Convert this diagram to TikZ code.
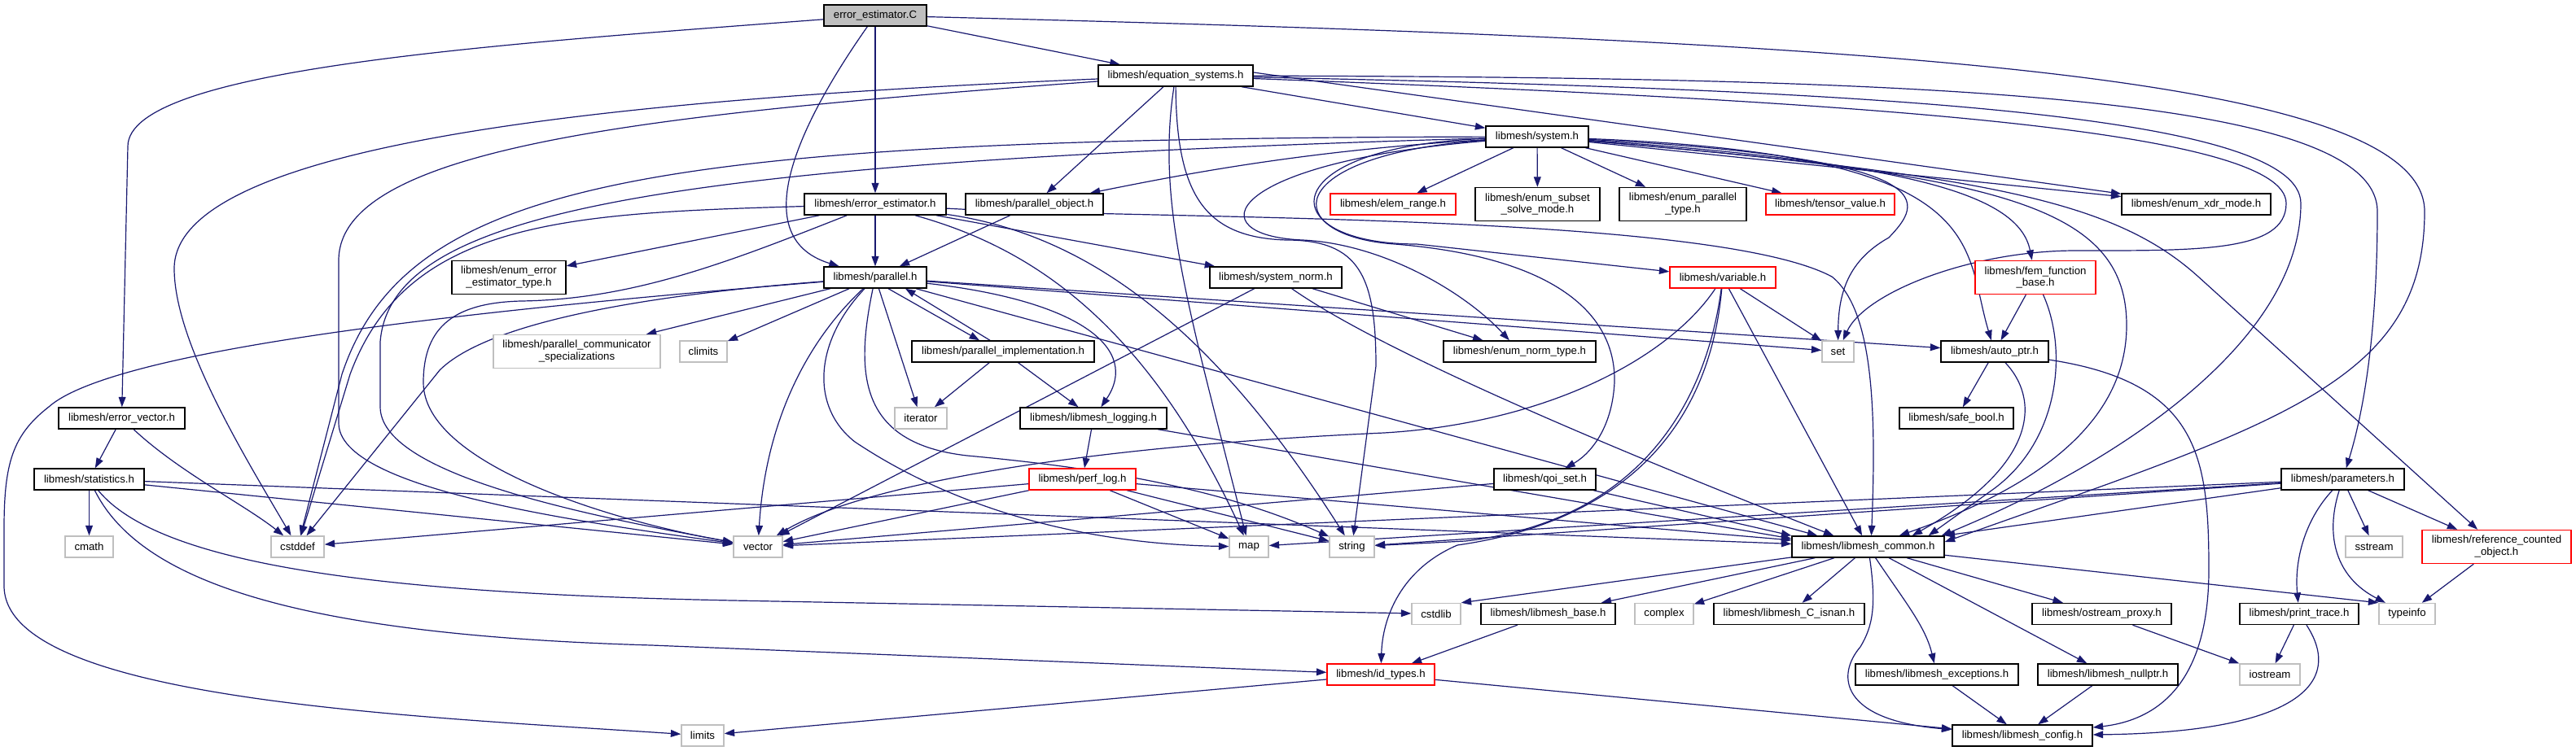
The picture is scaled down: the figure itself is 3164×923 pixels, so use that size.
\documentclass[tikz,border=0pt]{standalone}
\usepackage{fontspec}
\setmainfont{Liberation Sans}
\usepackage{tikz}
\usetikzlibrary{arrows.meta,backgrounds}
\definecolor{EdgeNavy}{HTML}{191970}
\definecolor{RootFill}{HTML}{BFBFBF}
\definecolor{SysBorder}{HTML}{BFBFBF}
\definecolor{TruncRed}{HTML}{FF0000}
\newcommand{\hdrfont}{\fontsize{9.4}{10.6}\selectfont}

\tikzset{
  hdr/.style={draw=black, fill=white, line width=0.35mm, inner sep=0pt, minimum height=6.5mm, align=center, font=\hdrfont},
  twoline/.style={minimum height=10.25mm},
  sysinc/.style={hdr, draw=SysBorder},
  trunc/.style={hdr, draw=TruncRed},
  rootfile/.style={hdr, fill=RootFill},
  wd/.style={minimum width=#1*0.25mm},
  dep/.style={draw=EdgeNavy, line width=0.3mm, -{Triangle[length=3.1mm, width=2.2mm]}}
}

\begin{document}
\begin{tikzpicture}[x=0.25mm, y=-0.25mm]
  \useasboundingbox (0,0) rectangle (3164,923);

  % Row 0 and 1
  \node[rootfile, wd=126] (nC) at (1075,19) {error\_estimator.C};
  \node[hdr, wd=190] (nEqSys) at (1444,93) {libmesh/equation\_systems.h};

  % Row 2
  \node[hdr, wd=126] (nSystem) at (1888,168) {libmesh/system.h};

  % Row 3
  \node[hdr, wd=174] (nErrEstH) at (1075,251) {libmesh/error\_estimator.h};
  \node[hdr, wd=169] (nParObj) at (1270.5,251) {libmesh/parallel\_object.h};
  \node[trunc, wd=154] (nElemRange) at (1711,251) {libmesh/elem\_range.h};
  \node[hdr, twoline, wd=153] (nSubset) at (1888.5,251) {libmesh/enum\_subset\\\_solve\_mode.h};
  \node[hdr, twoline, wd=156] (nParType) at (2067,251) {libmesh/enum\_parallel\\\_type.h};
  \node[trunc, wd=158] (nTensor) at (2248,251) {libmesh/tensor\_value.h};
  \node[hdr, wd=183] (nXdr) at (2697.5,251) {libmesh/enum\_xdr\_mode.h};

  % Row 4
  \node[hdr, twoline, wd=140] (nEnumErrType) at (625,341) {libmesh/enum\_error\\\_estimator\_type.h};
  \node[hdr, wd=126] (nParallel) at (1075,341) {libmesh/parallel.h};
  \node[hdr, wd=162] (nSysNorm) at (1567,341) {libmesh/system\_norm.h};
  \node[trunc, wd=130] (nVariable) at (2116,341) {libmesh/variable.h};
  \node[trunc, twoline, wd=148] (nFem) at (2500,341) {libmesh/fem\_function\\\_base.h};

  % Row 5
  \node[sysinc, twoline, wd=205] (nCommSpec) at (708.5,432) {libmesh/parallel\_communicator\\\_specializations};
  \node[sysinc, wd=58] (nClimits) at (864,432) {climits};
  \node[hdr, wd=224] (nParImpl) at (1232,432) {libmesh/parallel\_implementation.h};
  \node[hdr, wd=187] (nNormType) at (1866.5,432) {libmesh/enum\_norm\_type.h};
  \node[sysinc, wd=39] (nSet) at (2257.5,432) {set};
  \node[hdr, wd=132] (nAutoPtr) at (2450,432) {libmesh/auto\_ptr.h};

  % Row 6
  \node[hdr, wd=155] (nErrVec) at (149.5,514) {libmesh/error\_vector.h};
  \node[sysinc, wd=64] (nIterator) at (1131,514) {iterator};
  \node[hdr, wd=180] (nLogging) at (1343,514) {libmesh/libmesh\_logging.h};
  \node[hdr, wd=140] (nSafeBool) at (2403,514) {libmesh/safe\_bool.h};

  % Row 7
  \node[hdr, wd=135] (nStats) at (109.5,589) {libmesh/statistics.h};
  \node[trunc, wd=131] (nPerfLog) at (1329.5,589) {libmesh/perf\_log.h};
  \node[hdr, wd=125] (nQoi) at (1897.5,589) {libmesh/qoi\_set.h};
  \node[hdr, wd=151] (nParams) at (2877.5,589) {libmesh/parameters.h};

  % Row 8
  \node[sysinc, wd=59] (nCmath) at (109.5,672) {cmath};
  \node[sysinc, wd=65] (nCstddef) at (365.5,672) {cstddef};
  \node[sysinc, wd=60] (nVector) at (931,672) {vector};
  \node[sysinc, wd=48] (nMap) at (1534,672) {map};
  \node[sysinc, wd=55] (nString) at (1660.5,672) {string};
  \node[hdr, wd=187] (nCommon) at (2294.5,672) {libmesh/libmesh\_common.h};
  \node[sysinc, wd=70] (nSstream) at (2916,672) {sstream};
  \node[trunc, twoline, wd=183] (nRefCount) at (3066.5,672) {libmesh/reference\_counted\\\_object.h};

  % Row 9
  \node[sysinc, wd=60] (nCstdlib) at (1764,754.5) {cstdlib};
  \node[hdr, wd=165] (nLibBase) at (1901.5,754.5) {libmesh/libmesh\_base.h};
  \node[sysinc, wd=72] (nComplex) at (2044,754.5) {complex};
  \node[hdr, wd=185] (nIsnan) at (2197.5,754.5) {libmesh/libmesh\_C\_isnan.h};
  \node[hdr, wd=171] (nOstream) at (2581.5,754.5) {libmesh/ostream\_proxy.h};
  \node[hdr, wd=146] (nPrintTrace) at (2824,754.5) {libmesh/print\_trace.h};
  \node[sysinc, wd=69] (nTypeinfo) at (2956.5,754.5) {typeinfo};

  % Row 10 and 11
  \node[trunc, wd=132] (nIdTypes) at (1696,829) {libmesh/id\_types.h};
  \node[hdr, wd=200] (nExceptions) at (2379,829) {libmesh/libmesh\_exceptions.h};
  \node[hdr, wd=172] (nNullptr) at (2589,829) {libmesh/libmesh\_nullptr.h};
  \node[sysinc, wd=74] (nIostream) at (2788,829) {iostream};
  \node[sysinc, wd=52] (nLimits) at (863,904) {limits};
  \node[hdr, wd=172] (nConfig) at (2484,904) {libmesh/libmesh\_config.h};

  \begin{pgfonlayer}{background}
  \fill[white] (0,0) rectangle (3164,923);

  % error_estimator.C
  \draw[dep] (nC) -- (nEqSys);
  \draw[dep] (nC) -- (nErrEstH);
  \draw[dep] (nC) .. controls (990,140) and (910,290) .. (nParallel);
  \draw[dep] (nC) .. controls (600,55) and (157,85) .. (157,180) -- (nErrVec);
  \draw[dep] (nC) .. controls (2300,50) and (2978,90) .. (2978,260) .. controls (2978,470) and (2800,520) .. ([yshift=1.5mm]nCommon.east);

  % equation_systems.h
  \draw[dep] (nEqSys) -- (nSystem);
  \draw[dep] (nEqSys) -- (nParObj);
  \draw[dep] ([yshift=1mm]nEqSys.east) -- (nXdr);
  \draw[dep] (nEqSys) .. controls (2400,95) and (2920,120) .. (2920,260) .. controls (2920,400) and (2905,500) .. (nParams);
  \draw[dep] (nEqSys) .. controls (2300,110) and (2826,140) .. (2826,250) .. controls (2826,420) and (2600,570) .. ([xshift=-1mm]nCommon.north east);
  \draw[dep] (nEqSys) .. controls (2300,125) and (2808,160) .. (2808,250) .. controls (2808,310) and (2700,308) .. (2550,308) .. controls (2420,308) and (2290,360) .. (nSet);
  \draw[dep] (nEqSys) .. controls (1420,250) and (1460,380) .. (nMap);
  \draw[dep] (nEqSys) .. controls (1445,240) and (1480,292) .. (1580,295) .. controls (1670,295) and (1690,340) .. (1690,450) -- (nString);
  \draw[dep] (nEqSys) .. controls (800,120) and (214,170) .. (214,330) .. controls (214,420) and (300,560) .. (nCstddef);
  \draw[dep] (nEqSys) .. controls (800,140) and (416,180) .. (416,320) -- (416,520) .. controls (416,600) and (700,640) .. (nVector);

  % system.h
  \draw[dep] (nSystem) -- (nElemRange);
  \draw[dep] (nSystem) -- (nSubset);
  \draw[dep] (nSystem) -- (nParType);
  \draw[dep] (nSystem) -- (nTensor);
  \draw[dep] (nSystem) -- (nXdr);
  \draw[dep] (nSystem) .. controls (2350,200) and (2480,240) .. (nFem);
  \draw[dep] (nSystem) .. controls (2450,190) and (2410,300) .. (nAutoPtr);
  \draw[dep] (nSystem) .. controls (2450,215) and (2612,250) .. (2612,400) .. controls (2612,520) and (2500,600) .. ([xshift=-14mm]nCommon.north east);
  \draw[dep] (nSystem) .. controls (2450,215) and (2600,250) .. (2700,340) -- (nRefCount);
  \draw[dep] (nSystem) .. controls (2400,195) and (2360,250) .. (2320,292) .. controls (2270,320) and (2258,360) .. (nSet);
  \draw[dep] (nSystem) .. controls (1560,180) and (1560,300) .. (1740,300) -- (nVariable);
  \draw[dep] (nSystem) .. controls (1500,200) and (1470,290) .. (1600,295) .. controls (1700,300) and (1800,360) .. (nNormType);
  \draw[dep] (nSystem) .. controls (1570,190) and (1570,290) .. (1713,300) .. controls (1900,315) and (1985,380) .. (1983,470) .. controls (1980,530) and (1950,560) .. (nQoi);
  \draw[dep] (nSystem) .. controls (1600,185) and (1450,215) .. (nParObj);
  \draw[dep] (nSystem) .. controls (800,170) and (500,220) .. (420,460) -- (nCstddef);
  \draw[dep] (nSystem) .. controls (800,200) and (480,260) .. (467,420) -- (467,500) .. controls (467,580) and (700,630) .. (nVector);

  % error_estimator.h
  \draw[dep] (nErrEstH) -- (nParallel);
  \draw[dep] (nErrEstH) -- (nEnumErrType);
  \draw[dep] (nErrEstH) -- (nSysNorm);
  \draw[dep] (nErrEstH) .. controls (700,262) and (500,270) .. (430,460) -- (nCstddef);
  \draw[dep] (nErrEstH) .. controls (900,320) and (780,368) .. (640,370) .. controls (560,372) and (520,400) .. (520,470) .. controls (520,570) and (750,640) .. (nVector);
  \draw[dep] (nErrEstH) .. controls (1250,300) and (1400,380) .. (nMap);
  \draw[dep] (nErrEstH) .. controls (1350,290) and (1500,420) .. (nString);
  \draw[dep] (nErrEstH) .. controls (1400,270) and (2100,260) .. (2250,340) .. controls (2300,380) and (2305,500) .. ([xshift=1mm]nCommon.north);

  % parallel_object.h
  \draw[dep] (nParObj) -- (nParallel);

  % parallel.h
  \draw[dep] ([xshift=4mm]nParallel.south) -- ([xshift=-7.25mm]nParImpl.north);
  \draw[dep] (nParallel) -- (nClimits);
  \draw[dep] (nParallel) -- (nCommSpec);
  \draw[dep] (nParallel) -- (nIterator);
  \draw[dep] (nParallel) .. controls (1330,370) and (1400,430) .. (nLogging);
  \draw[dep] (nParallel) -- (nSet);
  \draw[dep] (nParallel) -- (nAutoPtr);
  \draw[dep] (nParallel) -- ([xshift=8mm]nCommon.north west);
  \draw[dep] (nParallel) .. controls (990,420) and (940,520) .. (nVector);
  \draw[dep] (nParallel) .. controls (1000,420) and (995,500) .. (1050,543) .. controls (1150,610) and (1300,668) .. (nMap);
  \draw[dep] (nParallel) .. controls (1050,460) and (1055,545) .. (1188,560) .. controls (1350,575) and (1500,600) .. (nString);
  \draw[dep] (nParallel) .. controls (800,362) and (600,395) .. (540,455) -- (nCstddef);
  \draw[dep] (nParallel) .. controls (700,372) and (150,420) .. (60,500) .. controls (15,535) and (5,570) .. (5,650) -- (5,720) .. controls (5,860) and (500,880) .. (nLimits);

  % parallel_implementation.h
  \draw[dep] ([xshift=-4mm]nParImpl.north) -- ([xshift=9.25mm]nParallel.south);
  \draw[dep] (nParImpl) -- (nIterator);
  \draw[dep] (nParImpl) -- (nLogging);

  % system_norm.h
  \draw[dep] (nSysNorm) -- (nNormType);
  \draw[dep] (nSysNorm) .. controls (1680,420) and (1900,520) .. ([xshift=13mm]nCommon.north west);
  \draw[dep] (nSysNorm) -- (nVector);

  % variable.h
  \draw[dep] (nVariable) -- (nSet);
  \draw[dep] (nVariable) -- (nCommon);
  \draw[dep] (nVariable) .. controls (2100,520) and (2000,640) .. (1790,670) .. controls (1720,700) and (1698,760) .. (nIdTypes);
  \draw[dep] (nVariable) .. controls (2095,500) and (2010,640) .. (1800,665) -- (nString);
  \draw[dep] (nVariable) .. controls (2050,440) and (1900,520) .. (1700,532) .. controls (1300,550) and (1050,600) .. (nVector);

  % fem_function_base.h
  \draw[dep] (nFem) -- (nAutoPtr);
  \draw[dep] (nFem) .. controls (2540,430) and (2530,540) .. (2450,600) -- ([xshift=-5mm]nCommon.north east);

  % auto_ptr.h
  \draw[dep] (nAutoPtr) -- (nSafeBool);
  \draw[dep] (nAutoPtr) .. controls (2505,490) and (2505,570) .. ([xshift=-10mm]nCommon.north east);
  \draw[dep] (nAutoPtr) .. controls (2700,470) and (2713,560) .. (2713,700) .. controls (2713,840) and (2650,885) .. (nConfig);

  % error_vector.h and statistics.h
  \draw[dep] (nErrVec) -- (nStats);
  \draw[dep] (nErrVec) .. controls (220,580) and (300,620) .. (nCstddef);
  \draw[dep] (nStats) -- (nCmath);
  \draw[dep] (nStats) -- (nCommon);
  \draw[dep] (nStats) -- (nVector);
  \draw[dep] (nStats) .. controls (200,700) and (500,730) .. (900,738) -- (nCstdlib);
  \draw[dep] (nStats) .. controls (170,710) and (350,780) .. (800,793) -- (nIdTypes);

  % libmesh_logging.h and perf_log.h
  \draw[dep] (nLogging) -- (nPerfLog);
  \draw[dep] (nLogging) -- ([yshift=2.5mm]nCommon.west);
  \draw[dep] (nPerfLog) -- (nCstddef);
  \draw[dep] (nPerfLog) -- (nVector);
  \draw[dep] (nPerfLog) -- (nMap);
  \draw[dep] (nPerfLog) -- (nString);
  \draw[dep] (nPerfLog) -- (nCommon);

  % qoi_set.h
  \draw[dep] (nQoi) -- (nVector);
  \draw[dep] (nQoi) -- (nCommon.north west);

  % parameters.h
  \draw[dep] (nParams) -- (nCommon.north east);
  \draw[dep] (nParams) -- (nMap);
  \draw[dep] (nParams) -- (nString);
  \draw[dep] (nParams) -- (nVector);
  \draw[dep] (nParams) .. controls (2830,640) and (2818,690) .. (nPrintTrace);
  \draw[dep] (nParams) .. controls (2855,660) and (2870,710) .. (nTypeinfo);
  \draw[dep] (nParams) -- (nSstream);
  \draw[dep] (nParams) -- (nRefCount);
  \draw[dep] (nRefCount) -- (nTypeinfo);

  % libmesh_common.h
  \draw[dep] (nCommon) -- (nCstdlib.north east);
  \draw[dep] (nCommon) -- (nLibBase);
  \draw[dep] (nCommon) -- (nComplex);
  \draw[dep] (nCommon) -- (nIsnan);
  \draw[dep] (nCommon) .. controls (2305,745) and (2300,770) .. (2285,795) .. controls (2255,830) and (2260,885) .. (nConfig);
  \draw[dep] (nCommon) .. controls (2340,740) and (2365,770) .. (nExceptions);
  \draw[dep] (nCommon) -- (nOstream);
  \draw[dep] (nCommon) -- (nNullptr);
  \draw[dep] (nCommon) -- (nTypeinfo.north west);

  % lower rows
  \draw[dep] (nLibBase) -- (nIdTypes);
  \draw[dep] (nIdTypes) -- (nLimits);
  \draw[dep] (nIdTypes) -- (nConfig);
  \draw[dep] (nPrintTrace) -- (nIostream);
  \draw[dep] (nPrintTrace) .. controls (2880,840) and (2820,900) .. (nConfig);
  \draw[dep] (nOstream) -- (nIostream);
  \draw[dep] (nExceptions) -- (nConfig);
  \draw[dep] (nNullptr) -- (nConfig);
  \end{pgfonlayer}
\end{tikzpicture}
\end{document}
